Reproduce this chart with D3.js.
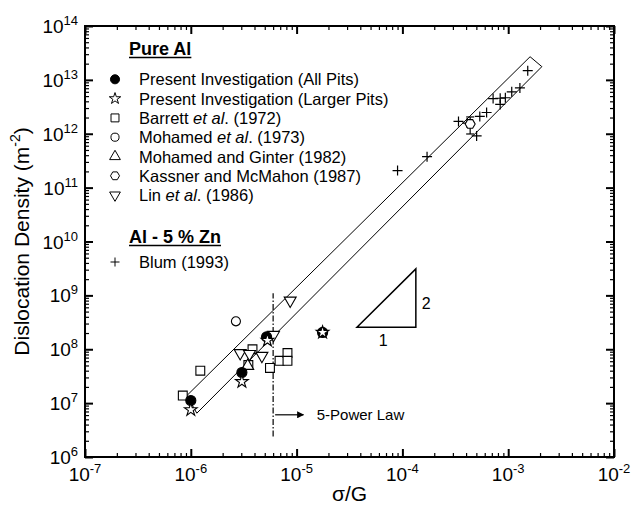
<!DOCTYPE html>
<html>
<head>
<meta charset="utf-8">
<script src="https://cdn.jsdelivr.net/npm/d3@7"></script>
<style>
  body { margin: 0; background: #fff; }
  svg { font-family: Arial, "Liberation Sans", sans-serif; display: block; }
</style>
</head>
<body>
<div id="chart"></div>
<script>
// decades shown on each axis
const xDecades = [-7, -6, -5, -4, -3, -2];
const yDecades = [6, 7, 8, 9, 10, 11, 12, 13, 14];

// [sigma/G, dislocation density]
const allPits = [[1.0e-6, 1.12e7], [3.04e-6, 3.7e7], [5.2e-6, 1.7e8], [1.76e-5, 2.05e8]];
const largerPits = [[1.0e-6, 7.5e6], [3.04e-6, 2.5e7], [5.3e-6, 1.46e8], [1.76e-5, 2.05e8]];
const barrett = [[8.4e-7, 1.38e7], [1.23e-6, 4.0e7], [3.83e-6, 1.0e8], [3.5e-6, 5.1e7],
  [5.6e-6, 4.5e7], [6.9e-6, 6.1e7], [8.2e-6, 8.5e7], [8.2e-6, 6.1e7]];
const mohamed = [[2.67e-6, 3.3e8]];
const mohamedGinter = [[3.45e-6, 4.9e7]];
const kassner = [[4.37e-4, 1.52e12]];
const kassnerErr = [[4.37e-4, 9.9e11, 2.05e12]];
const lin = [[2.93e-6, 8.5e7], [3.59e-6, 8.2e7], [4.7e-6, 7.55e7], [6.05e-6, 1.85e8], [8.7e-6, 8.0e8]];
const blum = [[9.0e-5, 2.07e11], [1.71e-4, 3.76e11], [3.39e-4, 1.69e12], [4.09e-4, 1.58e12],
  [5.03e-4, 9.1e11], [5.39e-4, 2.1e12], [6.25e-4, 2.48e12], [7.2e-4, 4.5e12], [8.4e-4, 4.56e12],
  [9.4e-4, 4.66e12], [8.4e-4, 3.5e12], [1.08e-3, 6.0e12], [1.29e-3, 7.1e12], [1.53e-3, 1.48e13]];

// scatter band (closed outline)
const band = [[9.18e-7, 1.38e7], [1.61e-3, 2.69e13], [2.08e-3, 1.76e13], [1.14e-6, 6.5e6]];
// slope triangle 1:2
const slopeTri = [[3.72e-5, 2.57e8], [1.34e-4, 2.57e8], [1.34e-4, 3.1e9]];
const fivePowerX = 6.0e-6;
const fivePowerY = [2.4e6, 1.1e9];

const width = 632, height = 509;
const margin = { top: 26, right: 18, bottom: 52, left: 85 };

const x = d3.scaleLog().domain([1e-7, 1e-2]).range([margin.left, width - margin.right]);
const y = d3.scaleLog().domain([1e6, 1e14]).range([height - margin.bottom, margin.top]);

const svg = d3.select('#chart').append('svg')
  .attr('width', width)
  .attr('height', height);

// ----- axes -----
const minors = (decs) => {
  const out = [];
  decs.slice(0, -1).forEach((d) => {
    for (let m = 2; m <= 9; m++) out.push(m * Math.pow(10, d));
  });
  return out;
};
const xMajor = xDecades.map((d) => Math.pow(10, d));
const yMajor = yDecades.map((d) => Math.pow(10, d));
const xMinor = minors(xDecades);
const yMinor = minors(yDecades);

const axisDefs = [
  [d3.axisBottom(x), `translate(0,${y.range()[0]})`, xMajor, xMinor],
  [d3.axisTop(x), `translate(0,${y.range()[1]})`, xMajor, xMinor],
  [d3.axisLeft(y), `translate(${x.range()[0]},0)`, yMajor, yMinor],
  [d3.axisRight(y), `translate(${x.range()[1]},0)`, yMajor, yMinor]
];
axisDefs.forEach(([ax, tr, maj, min]) => {
  const gMin = svg.append('g').attr('transform', tr)
    .call(ax.tickValues(min).tickSize(-4).tickFormat(() => ''));
  gMin.select('.domain').remove();
  gMin.selectAll('line').attr('stroke-width', 1.2);
  const gMaj = svg.append('g').attr('transform', tr)
    .call(ax.tickValues(maj).tickSize(-8).tickFormat(() => ''));
  gMaj.select('.domain').remove();
  gMaj.selectAll('line').attr('stroke-width', 2);
});

svg.append('rect')
  .attr('x', x.range()[0]).attr('y', y.range()[1])
  .attr('width', x.range()[1] - x.range()[0])
  .attr('height', y.range()[0] - y.range()[1])
  .attr('fill', 'none').attr('stroke', '#000').attr('stroke-width', 2);

// tick labels 10^n
const powLabel = (sel) => {
  sel.append('tspan').text('10');
  sel.append('tspan').attr('font-size', 13).attr('dy', -8).text((d) => d);
};
svg.append('g').selectAll('text').data(xDecades).enter().append('text')
  .attr('x', (d) => x(Math.pow(10, d)))
  .attr('y', 481)
  .attr('text-anchor', 'middle')
  .attr('font-size', 19)
  .call(powLabel);
svg.append('g').selectAll('text').data(yDecades).enter().append('text')
  .attr('x', x.range()[0] - 7)
  .attr('y', (d) => y(Math.pow(10, d)) + 7)
  .attr('text-anchor', 'end')
  .attr('font-size', 19)
  .call(powLabel);

// axis titles
svg.append('text')
  .attr('x', (x.range()[0] + x.range()[1]) / 2)
  .attr('y', 501)
  .attr('text-anchor', 'middle')
  .attr('font-size', 21)
  .text('σ/G');
const yTitle = svg.append('text')
  .attr('transform', `translate(29,${(y.range()[0] + y.range()[1]) / 2}) rotate(-90)`)
  .attr('text-anchor', 'middle')
  .attr('font-size', 21);
yTitle.append('tspan').text('Dislocation Density (m');
yTitle.append('tspan').attr('font-size', 14).attr('dy', -9).text('-2');
yTitle.append('tspan').attr('dy', 9).text(')');

// ----- band, guides -----
const line = d3.line().x((d) => x(d[0])).y((d) => y(d[1]));
svg.append('path')
  .attr('d', line(band) + 'Z')
  .attr('fill', 'none').attr('stroke', '#000').attr('stroke-width', 1);

svg.append('line')
  .attr('x1', x(fivePowerX)).attr('x2', x(fivePowerX))
  .attr('y1', y(fivePowerY[0])).attr('y2', y(fivePowerY[1]))
  .attr('stroke', '#000').attr('stroke-width', 1.2)
  .attr('stroke-dasharray', '6,2,1.5,2');

svg.append('defs').append('marker')
  .attr('id', 'arrow').attr('viewBox', '0 0 10 10')
  .attr('refX', 9).attr('refY', 5)
  .attr('markerWidth', 9).attr('markerHeight', 7)
  .attr('markerUnits', 'userSpaceOnUse')
  .attr('orient', 'auto')
  .append('path').attr('d', 'M0,0L10,5L0,10Z').attr('fill', '#000');
svg.append('line')
  .attr('x1', x(fivePowerX) + 2).attr('x2', x(1.16e-5))
  .attr('y1', y(6.07e6)).attr('y2', y(6.07e6))
  .attr('stroke', '#000').attr('stroke-width', 1.2)
  .attr('marker-end', 'url(#arrow)');
svg.append('text')
  .attr('x', x(1.55e-5)).attr('y', y(6.07e6) + 5)
  .attr('font-size', 15)
  .text('5-Power Law');

svg.append('path')
  .attr('d', line(slopeTri) + 'Z')
  .attr('fill', 'none').attr('stroke', '#000').attr('stroke-width', 1.5);
svg.append('text')
  .attr('x', x(6.6e-5)).attr('y', y(2.57e8) + 19)
  .attr('text-anchor', 'middle').attr('font-size', 16).text('1');
svg.append('text')
  .attr('x', x(1.34e-4) + 6).attr('y', y(7.2e8) + 6)
  .attr('font-size', 16).text('2');

// ----- symbols -----
const hexagon = (r) => d3.range(6).map((i) => {
  const a = Math.PI / 3 * i;
  return [r * Math.cos(a), r * Math.sin(a)];
});
const symPath = {
  filled: d3.symbol(d3.symbolCircle, 80)(),
  star: d3.symbol(d3.symbolStar, 50)(),
  square: d3.symbol(d3.symbolSquare, 78)(),
  circle: d3.symbol(d3.symbolCircle, 64)(),
  triangle: d3.symbol(d3.symbolTriangle, 62)(),
  hexagon: 'M' + hexagon(5).join('L') + 'Z',
  invTriangle: d3.symbol(d3.symbolTriangle, 62)(),
  plus: 'M-5,0H5M0,-5V5'
};
const symRot = { invTriangle: 180 };

const drawSeries = (data, kind) => {
  svg.append('g').selectAll('path').data(data).enter().append('path')
    .attr('d', symPath[kind])
    .attr('transform', (d) => `translate(${x(d[0])},${y(d[1])}) rotate(${symRot[kind] || 0})`)
    .attr('fill', kind === 'filled' ? '#000' : kind === 'plus' ? 'none' : '#fff')
    .attr('stroke', '#000')
    .attr('stroke-width', kind === 'plus' ? 1.2 : 1.1);
};

drawSeries(barrett, 'square');
drawSeries(mohamed, 'circle');
drawSeries(mohamedGinter, 'triangle');
drawSeries(lin, 'invTriangle');
drawSeries(blum, 'plus');

// error bars
const errG = svg.append('g').attr('stroke', '#000').attr('stroke-width', 1.2);
kassnerErr.forEach(([ex, lo, hi]) => {
  errG.append('line').attr('x1', x(ex)).attr('x2', x(ex)).attr('y1', y(lo)).attr('y2', y(hi));
  [lo, hi].forEach((v) => {
    errG.append('line').attr('x1', x(ex) - 4).attr('x2', x(ex) + 4).attr('y1', y(v)).attr('y2', y(v));
  });
});
drawSeries(kassner, 'hexagon');
drawSeries(allPits, 'filled');
drawSeries(largerPits, 'star');

// ----- legend -----
const pureItems = [
  ['filled', 'Present Investigation (All Pits)'],
  ['star', 'Present Investigation (Larger Pits)'],
  ['square', ['Barrett ', 'et al', '. (1972)']],
  ['circle', ['Mohamed ', 'et al', '. (1973)']],
  ['triangle', 'Mohamed and Ginter (1982)'],
  ['hexagon', 'Kassner and McMahon (1987)'],
  ['invTriangle', ['Lin ', 'et al', '. (1986)']]
];

const heading = (txt, hy) => {
  const t = svg.append('text')
    .attr('x', 129).attr('y', hy)
    .attr('font-size', 18).attr('font-weight', 'bold')
    .text(txt);
  const w = t.node().getComputedTextLength();
  svg.append('line')
    .attr('x1', 129).attr('x2', 129 + w)
    .attr('y1', hy + 2.5).attr('y2', hy + 2.5)
    .attr('stroke', '#000').attr('stroke-width', 1.5);
};

const legendRow = (kind, label, ly) => {
  svg.append('path')
    .attr('d', symPath[kind])
    .attr('transform', `translate(115,${ly}) rotate(${symRot[kind] || 0}) scale(0.9)`)
    .attr('fill', kind === 'filled' ? '#000' : kind === 'plus' ? 'none' : '#fff')
    .attr('stroke', '#000').attr('stroke-width', 1.1);
  const t = svg.append('text')
    .attr('x', 139).attr('y', ly + 6)
    .attr('font-size', 16.5);
  if (Array.isArray(label)) {
    t.append('tspan').text(label[0]);
    t.append('tspan').attr('font-style', 'italic').text(label[1]);
    t.append('tspan').text(label[2]);
  } else {
    t.text(label);
  }
};

heading('Pure Al', 55);
pureItems.forEach(([kind, label], i) => legendRow(kind, label, 79.3 + i * 19.3));
heading('Al - 5 % Zn', 243);
legendRow('plus', 'Blum (1993)', 262);
</script>
</body>
</html>
